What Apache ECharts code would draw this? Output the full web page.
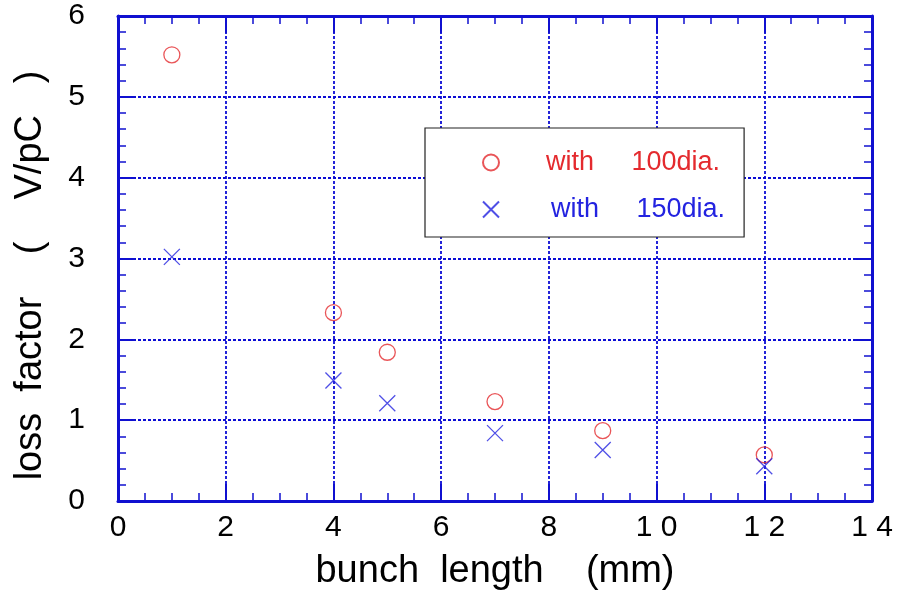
<!DOCTYPE html>
<html>
<head>
<meta charset="utf-8">
<script src="https://cdn.jsdelivr.net/npm/echarts@6/dist/echarts.min.js"></script>
<style>
  html, body { margin: 0; padding: 0; background: #fff; }
  #chart { width: 904px; height: 596px; }
</style>
</head>
<body>
<div id="chart"></div>
<script>
// Bunch length (mm) for each simulated case
const bunchLength = [1, 4, 5, 7, 9, 12];
// Loss factor (V/pC) with the 100 mm diameter pipe
const loss100 = [5.52, 2.33, 1.84, 1.23, 0.87, 0.57];
// Loss factor (V/pC) with the 150 mm diameter pipe
const loss150 = [3.02, 1.49, 1.21, 0.84, 0.63, 0.43];

// Tick labels along the bunch-length axis (0, 2, ... 14)
const xTickLabels = ['0', '2', '4', '6', '8', '1 0', '1 2', '1 4'];
const yTickLabels = ['0', '1', '2', '3', '4', '5', '6'];

const seriesNames = ['with     100dia.', 'with     150dia.'];

const FONT = '"Liberation Sans", Arial, Helvetica, sans-serif';
const AXIS_BLUE = '#1010d0';
const GRID_BLUE = '#0c0cd4';
const RED = '#e42a2e';
const BLUE = '#2323e0';

const chart = echarts.init(document.getElementById('chart'), null, { renderer: 'canvas' });

function frameAxis(extra) {
  return Object.assign({
    axisLine: { show: true, onZero: false, lineStyle: { color: AXIS_BLUE, width: 3 } },
    axisTick: { show: true, inside: true, length: 17, lineStyle: { color: AXIS_BLUE, width: 2 } },
    splitLine: { show: false },
    axisLabel: { show: false }
  }, extra);
}

function minor(n) {
  return { show: true, splitNumber: n, length: 8, lineStyle: { color: AXIS_BLUE, width: 1.5 } };
}

const gridLine = { show: true, lineStyle: { color: GRID_BLUE, width: 1.8, type: [3, 2] } };

chart.setOption({
  animation: false,
  backgroundColor: '#fff',
  grid: { left: 118, right: 32, top: 16, bottom: 93, containLabel: false },
  xAxis: [
    frameAxis({
      type: 'value', position: 'bottom', min: 0, max: 14, interval: 2,
      minorTick: minor(4),
      splitLine: gridLine,
      axisLabel: {
        show: true, margin: 12, color: '#000', fontSize: 30, fontFamily: FONT,
        formatter: (v) => xTickLabels[Math.round(v / 2)]
      },
      name: 'bunch  length    (mm)',
      nameLocation: 'middle', nameGap: 52,
      nameTextStyle: { color: '#000', fontSize: 38, fontFamily: FONT }
    }),
    frameAxis({
      type: 'value', position: 'top', min: 0, max: 14, interval: 2,
      minorTick: minor(4)
    })
  ],
  yAxis: [
    frameAxis({
      type: 'value', position: 'left', min: 0, max: 6, interval: 1,
      minorTick: minor(5),
      splitLine: gridLine,
      axisLabel: {
        show: true, margin: 33, color: '#000', fontSize: 30, fontFamily: FONT,
        formatter: (v) => yTickLabels[Math.round(v)]
      },
      name: 'loss  factor    (    V/pC   )',
      nameLocation: 'middle', nameGap: 68,
      nameTextStyle: { color: '#000', fontSize: 38, fontFamily: FONT, padding: [0, 34, 0, 0] }
    }),
    frameAxis({
      type: 'value', position: 'right', min: 0, max: 6, interval: 1,
      minorTick: minor(5)
    })
  ],
  legend: {
    orient: 'vertical',
    left: 425, top: 128,
    padding: [21, 19, 14, 57],
    itemGap: 20,
    itemWidth: 16, itemHeight: 16,
    backgroundColor: '#fff',
    borderColor: '#222',
    borderWidth: 1.2,
    borderRadius: 0,
    selectedMode: false,
    textStyle: { fontSize: 27, fontFamily: FONT, lineHeight: 27 },
    data: [
      { name: seriesNames[0], textStyle: { color: RED, padding: [0, 0, 0, 42] } },
      { name: seriesNames[1], textStyle: { color: BLUE, padding: [0, 0, 0, 47] } }
    ]
  },
  series: [
    {
      name: seriesNames[0],
      type: 'scatter',
      xAxisIndex: 0, yAxisIndex: 0,
      symbol: 'circle',
      symbolSize: 16,
      itemStyle: { color: 'transparent', borderColor: RED, borderWidth: 1.3 },
      data: bunchLength.map((x, i) => [x, loss100[i]]),
      z: 5
    },
    {
      name: seriesNames[1],
      type: 'scatter',
      xAxisIndex: 0, yAxisIndex: 0,
      symbol: 'path://M0,0L10,10M10,0L0,10',
      symbolSize: 16,
      itemStyle: { color: 'transparent', borderColor: BLUE, borderWidth: 1.3 },
      data: bunchLength.map((x, i) => [x, loss150[i]]),
      z: 5
    }
  ]
});
</script>
</body>
</html>
